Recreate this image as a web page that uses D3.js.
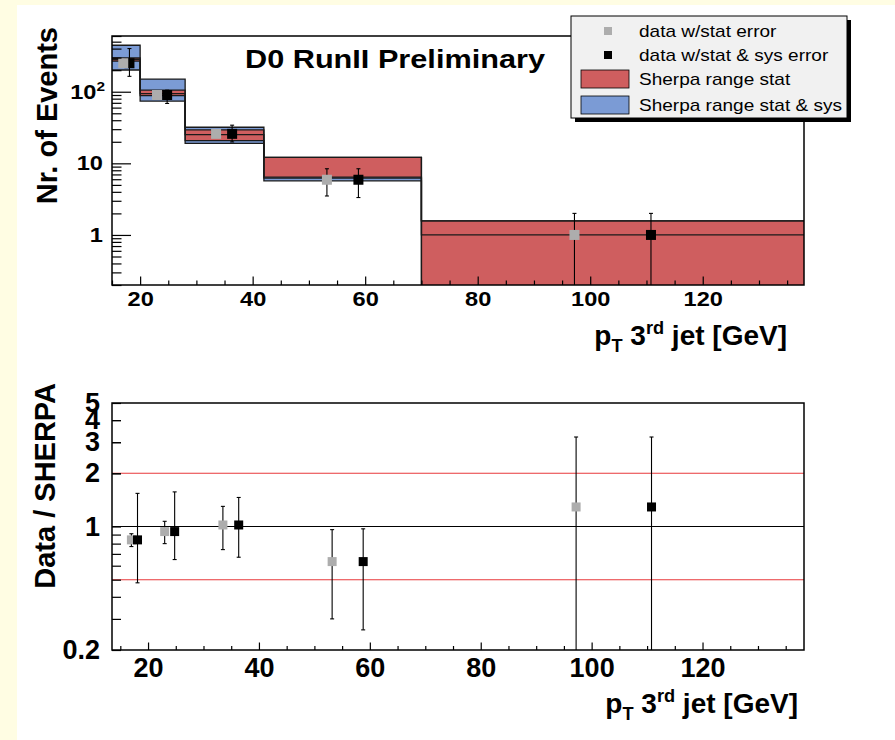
<!DOCTYPE html>
<html>
<head>
<meta charset="utf-8">
<script src="https://cdn.jsdelivr.net/npm/d3@7"></script>
<style>
  body { margin: 0; background: #fffde3; }
  text { font-family: "Liberation Sans", Arial, Helvetica, sans-serif; }
</style>
</head>
<body>
<script>
// bin edges of the pT(3rd jet) histogram
var binEdges = [15, 20, 28, 42, 70, 138];

// sherpa prediction range per bin
var sherpaCentral = [282, 94, 25.2, 6.2, 1.0];
var sherpaStatLo = [268, 88, 20.8, 6.4, 0.1];
var sherpaStatHi = [296, 105, 29.3, 12.1, 1.57];
var sherpaSysLo = [201, 74, 19.0, 5.7, 0.1];
var sherpaSysHi = [446, 150, 31.9, 12.1, 1.57];

// data points (two copies, shifted in x)
var ptStat = [17.0, 23.0, 33.5, 53.2, 97.2];
var ptSys = [18.1, 24.8, 36.35, 58.8, 110.8];
var events = [250, 90, 25.8, 5.9, 1];
var statLo = [240, 86, 24.5, 3.5, 0];
var statHi = [260, 94, 27, 8.4, 2];
var sysLo = [164, 68.6, 19.9, 3.33, 0];
var sysHi = [401, 105, 34.1, 8.4, 2];

// data / sherpa
var ratio = [0.84, 0.936, 1.02, 0.633, 1.29];
var ratioStatLo = [0.77, 0.80, 0.74, 0.30, 0];
var ratioStatHi = [0.91, 1.07, 1.30, 0.96, 3.21];
var ratioSysLo = [0.48, 0.65, 0.67, 0.26, 0];
var ratioSysHi = [1.54, 1.57, 1.46, 0.97, 3.21];
var ratioLines = [0.5, 1, 2];

// tick labels
var xMajor = [20, 40, 60, 80, 100, 120];
var yTopLabels = [1, 10, 100];
var yBotLabels = [0.2, 1, 2, 3, 4, 5];

var legendItems = ["data w/stat error", "data w/stat & sys error", "Sherpa range stat", "Sherpa range stat & sys"];

var red = "#cf5e5f", blue = "#7b9bd5", grey = "#adadad";
var sx = 1.18; // ROOT output looks a bit stretched in x

var svg = d3.select("body").append("svg")
    .attr("width", 895)
    .attr("height", 740);

svg.append("rect").attr("width", 895).attr("height", 740).attr("fill", "#fffde3");
svg.append("rect").attr("x", 17).attr("y", 5).attr("width", 878).attr("height", 735).attr("fill", "#fff");

// ---------- top pad ----------
var pt = {left: 112, right: 804, top: 36, bottom: 285};
var x = d3.scaleLinear().domain([15, 138]).range([pt.left, pt.right]);
var y = d3.scaleLog().domain([0.2, 600]).range([pt.bottom, pt.top]);

svg.append("clipPath").attr("id", "clipTop")
    .append("rect").attr("x", pt.left).attr("y", pt.top)
    .attr("width", pt.right - pt.left).attr("height", pt.bottom - pt.top);

var gTop = svg.append("g").attr("clip-path", "url(#clipTop)");

var bins = d3.range(binEdges.length - 1);
function lo(v) { return Math.max(v, 0.01); }

gTop.selectAll(".sys").data(bins).enter().append("rect")
    .attr("x", function (i) { return x(binEdges[i]); })
    .attr("width", function (i) { return x(binEdges[i + 1]) - x(binEdges[i]); })
    .attr("y", function (i) { return y(sherpaSysHi[i]); })
    .attr("height", function (i) { return y(lo(sherpaSysLo[i])) - y(sherpaSysHi[i]); })
    .attr("fill", blue);

gTop.selectAll(".stat").data(bins).enter().append("rect")
    .attr("x", function (i) { return x(binEdges[i]); })
    .attr("width", function (i) { return x(binEdges[i + 1]) - x(binEdges[i]); })
    .attr("y", function (i) { return y(sherpaStatHi[i]); })
    .attr("height", function (i) { return y(lo(sherpaStatLo[i])) - y(sherpaStatHi[i]); })
    .attr("fill", red);

// histogram outlines as step lines
var step = d3.line()
    .x(function (d) { return x(d[0]); })
    .y(function (d) { return y(lo(d[1])); });
function steps(vals) {
    var pts = [];
    vals.forEach(function (v, i) { pts.push([binEdges[i], v], [binEdges[i + 1], v]); });
    return pts;
}
[sherpaSysHi, sherpaSysLo, sherpaStatHi, sherpaStatLo, sherpaCentral].forEach(function (vals) {
    gTop.append("path").attr("d", step(steps(vals)))
        .attr("fill", "none").attr("stroke", "#1a1a1a").attr("stroke-width", 1.3);
});

function errorBars(g, xs, ys, los, his, xsc, ysc, size, color) {
    var e = g.append("g").attr("stroke", "#000").attr("stroke-width", 1.1);
    xs.forEach(function (xv, i) {
        var px = xsc(xv), y1 = ysc(lo(los[i])), y2 = ysc(his[i]);
        e.append("line").attr("x1", px).attr("x2", px).attr("y1", y1).attr("y2", y2);
        e.append("line").attr("x1", px - 2).attr("x2", px + 2).attr("y1", y1).attr("y2", y1);
        e.append("line").attr("x1", px - 2).attr("x2", px + 2).attr("y1", y2).attr("y2", y2);
    });
    g.selectAll(null).data(xs).enter().append("rect")
        .attr("x", function (d) { return xsc(d) - size / 2; })
        .attr("y", function (d, i) { return ysc(ys[i]) - size / 2; })
        .attr("width", size).attr("height", size)
        .attr("fill", color);
}

errorBars(gTop, ptSys, events, sysLo, sysHi, x, y, 10, "#000");
errorBars(gTop, ptStat, events, statLo, statHi, x, y, 10, grey);

svg.append("rect").attr("x", pt.left).attr("y", pt.top)
    .attr("width", pt.right - pt.left).attr("height", pt.bottom - pt.top)
    .attr("fill", "none").attr("stroke", "#000").attr("stroke-width", 1.5);

function styleTicks(g, size) {
    g.select(".domain").remove();
    g.selectAll(".tick line").attr("stroke", "#000").attr("stroke-width", 1.2);
    g.selectAll("text").attr("font-family", "Liberation Sans, Arial, sans-serif")
        .attr("font-weight", "bold").attr("font-size", size).attr("fill", "#000");
}

var xMinor = d3.range(15, 139, 5).filter(function (v) { return xMajor.indexOf(v) < 0; });

var gx = svg.append("g").attr("transform", "translate(0," + pt.bottom + ")");
gx.append("g").call(d3.axisBottom(x).tickValues(xMinor).tickSize(-4.5).tickFormat(""))
    .call(styleTicks, 20);
gx.append("g").call(d3.axisBottom(x).tickValues(xMajor).tickSize(-8.5).tickPadding(21).tickFormat(d3.format("d")))
    .call(styleTicks, 20);
gx.selectAll(".tick text").attr("transform", "scale(" + sx + ",1)").attr("dy", 0);

var yMinorTop = [];
[0.1, 1, 10, 100].forEach(function (d) {
    for (var k = 2; k <= 9; k++) {
        var v = d * k;
        if (v >= 0.2 && v <= 600) yMinorTop.push(v);
    }
});

var gy = svg.append("g").attr("transform", "translate(" + pt.left + ",0)");
gy.append("g").call(d3.axisLeft(y).tickValues(yMinorTop).tickSize(-9.5).tickFormat(""))
    .call(styleTicks, 20);
var gyMaj = gy.append("g").call(d3.axisLeft(y).tickValues(yTopLabels).tickSize(-19).tickPadding(8)
    .tickFormat(function (d) { return d === 100 ? "10" : String(d); }))
    .call(styleTicks, 20);
gyMaj.selectAll(".tick text").each(function (d) {
    var t = d3.select(this);
    t.attr("x", null).attr("transform", "translate(-9,0) scale(" + sx + ",1)");
    if (d === 100) {
        t.attr("transform", "translate(-7,0) scale(" + sx + ",1)");
        t.append("tspan").attr("dy", "-0.55em").attr("font-size", 13).text("2");
    }
});

// title
svg.append("text").attr("x", 245).attr("y", 68)
    .attr("font-size", 26).attr("font-weight", "bold")
    .attr("textLength", 300).attr("lengthAdjust", "spacingAndGlyphs")
    .text("D0 RunII Preliminary");

// legend
var leg = svg.append("g");
leg.append("rect").attr("x", 575).attr("y", 20).attr("width", 276).attr("height", 102).attr("fill", "#000");
leg.append("rect").attr("x", 571).attr("y", 16).attr("width", 276).attr("height", 102)
    .attr("fill", "#f1f1f1").attr("stroke", "#000").attr("stroke-width", 1);
var legY = [31, 55, 79, 105];
leg.append("rect").attr("x", 604).attr("y", legY[0] - 4).attr("width", 8).attr("height", 8).attr("fill", grey);
leg.append("rect").attr("x", 604).attr("y", legY[1] - 4).attr("width", 8).attr("height", 8).attr("fill", "#000");
leg.append("rect").attr("x", 581).attr("y", 70).attr("width", 48).attr("height", 18)
    .attr("fill", red).attr("stroke", "#000").attr("stroke-width", 0.8);
leg.append("rect").attr("x", 581).attr("y", 96).attr("width", 48).attr("height", 18)
    .attr("fill", blue).attr("stroke", "#000").attr("stroke-width", 0.8);
leg.selectAll(".lt").data(legendItems).enter().append("text")
    .attr("transform", function (d, i) { return "translate(639," + (legY[i] + 6) + ") scale(1.12,1)"; })
    .attr("font-size", 17)
    .text(function (d) { return d; });

// axis titles
function ptTitle(xr, yb, size) {
    var t = svg.append("text").attr("x", xr).attr("y", yb)
        .attr("text-anchor", "end").attr("font-size", size).attr("font-weight", "bold");
    t.append("tspan").text("p");
    t.append("tspan").attr("font-size", size * 0.65).attr("dy", size * 0.25).text("T");
    t.append("tspan").attr("dy", -size * 0.25).text(" 3");
    t.append("tspan").attr("font-size", size * 0.65).attr("dy", -size * 0.4).text("rd");
    t.append("tspan").attr("dy", size * 0.4).text(" jet [GeV]");
}
ptTitle(787, 345, 28);

svg.append("text").attr("transform", "translate(57,27) rotate(-90)")
    .attr("text-anchor", "end").attr("font-size", 29).attr("font-weight", "bold")
    .text("Nr. of Events");

// ---------- bottom pad ----------
var pb = {left: 112, right: 804, top: 403, bottom: 650};
var x2 = d3.scaleLinear().domain([13.5, 138.3]).range([pb.left, pb.right]);
var y2 = d3.scaleLog().domain([0.2, 5]).range([pb.bottom, pb.top]);

svg.append("clipPath").attr("id", "clipBot")
    .append("rect").attr("x", pb.left).attr("y", pb.top)
    .attr("width", pb.right - pb.left).attr("height", pb.bottom - pb.top);
var gBot = svg.append("g").attr("clip-path", "url(#clipBot)");

gBot.selectAll(".rl").data(ratioLines).enter().append("line")
    .attr("x1", pb.left).attr("x2", pb.right)
    .attr("y1", function (d) { return y2(d); }).attr("y2", function (d) { return y2(d); })
    .attr("stroke", function (d) { return d === 1 ? "#000" : "#e8393b"; })
    .attr("stroke-width", 1.1);

errorBars(gBot, ptStat, ratio, ratioStatLo, ratioStatHi, x2, y2, 9, grey);
errorBars(gBot, ptSys, ratio, ratioSysLo, ratioSysHi, x2, y2, 9, "#000");

svg.append("rect").attr("x", pb.left).attr("y", pb.top)
    .attr("width", pb.right - pb.left).attr("height", pb.bottom - pb.top)
    .attr("fill", "none").attr("stroke", "#000").attr("stroke-width", 1.5);

var gx2 = svg.append("g").attr("transform", "translate(0," + pb.bottom + ")");
gx2.append("g").call(d3.axisBottom(x2).tickValues(xMinor).tickSize(-4).tickFormat(""))
    .call(styleTicks, 27);
gx2.append("g").call(d3.axisBottom(x2).tickValues(xMajor).tickSize(-7.5).tickPadding(27).tickFormat(d3.format("d")))
    .call(styleTicks, 27);
gx2.selectAll(".tick text").attr("dy", 0);

var yMinorBot = [0.3, 0.4, 0.5, 0.6, 0.7, 0.8, 0.9, 2, 3, 4];
var gy2 = svg.append("g").attr("transform", "translate(" + pb.left + ",0)");
gy2.append("g").call(d3.axisLeft(y2).tickValues(yMinorBot).tickSize(-9).tickFormat(""))
    .call(styleTicks, 27);
gy2.append("g").call(d3.axisLeft(y2).tickValues(yBotLabels).tickSize(-9).tickPadding(12)
    .tickFormat(function (d) { return String(d); }))
    .call(styleTicks, 27);

ptTitle(798, 713, 28);

svg.append("text").attr("transform", "translate(55,383) rotate(-90)")
    .attr("text-anchor", "end").attr("font-size", 29).attr("font-weight", "bold")
    .text("Data / SHERPA");
</script>
</body>
</html>
